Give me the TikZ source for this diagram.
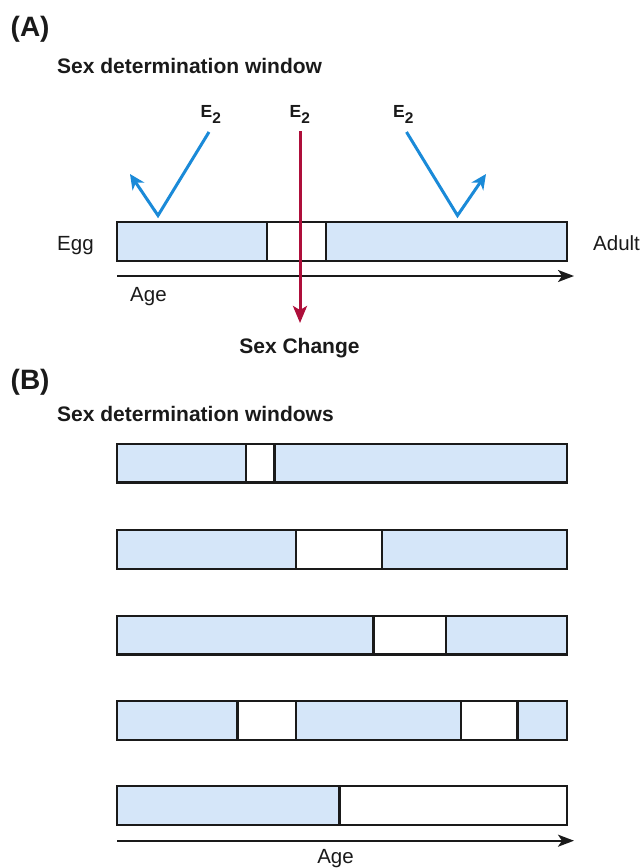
\documentclass[tikz,border=0pt]{standalone}
\usepackage{fontspec}
\setmainfont{Liberation Sans}
\usetikzlibrary{arrows.meta}

\definecolor{somafill}{HTML}{D5E6F9}
\definecolor{estblue}{HTML}{1A8AD8}
\definecolor{changered}{HTML}{AE0E3A}
\definecolor{outline}{HTML}{1A1A1A}

\tikzset{
  tissue/.style={draw=outline, line width=2.4pt, fill=somafill},
  window/.style={draw=outline, line width=2.4pt, fill=white},
  plain/.style={font=\fontsize{20.5}{24}\selectfont, inner sep=0pt, text=outline},
  heading/.style={font=\bfseries\fontsize{21}{25}\selectfont, inner sep=0pt, text=outline},
  panel/.style={font=\bfseries\fontsize{28}{32}\selectfont, inner sep=0pt, text=outline},
  elabel/.style={font=\bfseries\fontsize{17.5}{20}\selectfont, inner sep=0pt, text=outline, anchor=base west},
  agearrow/.style={draw=outline, line width=2pt, -{Stealth[length=16pt,width=12pt,inset=4pt]}},
  e2arrow/.style={draw=estblue, line width=3pt, miter limit=10,
    -{Stealth[length=15pt,width=14pt,inset=4.5pt]}},
  redarrow/.style={draw=changered, line width=3pt,
    -{Stealth[length=17pt,width=14pt,inset=4pt]}},
}
\newcommand{\Etwo}{E\raisebox{-6pt}{\fontsize{15.5}{16}\selectfont 2}}

\begin{document}
\begin{tikzpicture}[x=1pt, y=-1pt]
\useasboundingbox (0,0) rectangle (643,868);

% ---------- Panel A ----------
\node[panel, anchor=base west] (pa) at (10.5,36) {(A)};
\node[heading, anchor=base west] (ha) at (57,73) {Sex determination window};

% life-history bar with one sensitive window
\path[tissue] (117,222) rectangle (567,261);
\path[window] (267,222) rectangle (326,261);

\node[plain, anchor=base west] (egg) at (57,250) {Egg};
\node[plain, anchor=base west] (adult) at (593,250) {Adult};

\coordinate (ageAs) at (117,276);
\coordinate (ageAe) at (574,276);
\draw[agearrow] (ageAs) -- (ageAe);
\node[plain, anchor=base west] (ageA) at (130,301) {Age};

% estradiol labels
\node[elabel] (e2l) at (200.5,117.7) {\Etwo};
\node[elabel] (e2m) at (289.5,117.7) {\Etwo};
\node[elabel] (e2r) at (393,117.7) {\Etwo};

% estradiol outside the window is deflected
\coordinate (ls) at (209,132);
\coordinate (lb) at (158,215.5);
\coordinate (le) at (130,174);
\draw[e2arrow] (ls) -- (lb) -- (le);

\coordinate (rs) at (406.5,132);
\coordinate (rb) at (457.5,215.5);
\coordinate (re) at (486,174);
\draw[e2arrow] (rs) -- (rb) -- (re);

% estradiol inside the window causes sex change
\node[heading, anchor=base] (change) at (299.5,353) {Sex Change};
\coordinate (ms) at (300,131);
\coordinate (me) at (300,323);
\draw[redarrow] (ms) -- (me);

% ---------- Panel B ----------
\node[panel, anchor=base west] (pb) at (10.5,389) {(B)};
\node[heading, anchor=base west] (hb) at (57,421) {Sex determination windows};

\path[tissue] (117,444) rectangle (567,482.5);
\path[window] (245.7,444) rectangle (274.3,482.5);

\path[tissue] (117,530) rectangle (567,569);
\path[window] (296,530) rectangle (381.7,569);

\path[tissue] (117,615.7) rectangle (567,654.3);
\path[window] (373.3,615.7) rectangle (445.7,654.3);

\path[tissue] (117,701) rectangle (567,739.7);
\path[window] (237.3,701) rectangle (296,739.7);
\path[window] (460.7,701) rectangle (517.3,739.7);

\path[tissue] (117,786) rectangle (567,825);
\path[window] (339.3,786) rectangle (567,825);

\coordinate (ageBs) at (117,840.7);
\coordinate (ageBe) at (574,840.7);
\draw[agearrow] (ageBs) -- (ageBe);
\node[plain, anchor=base] (ageB) at (335.5,863) {Age};
\end{tikzpicture}
\end{document}
